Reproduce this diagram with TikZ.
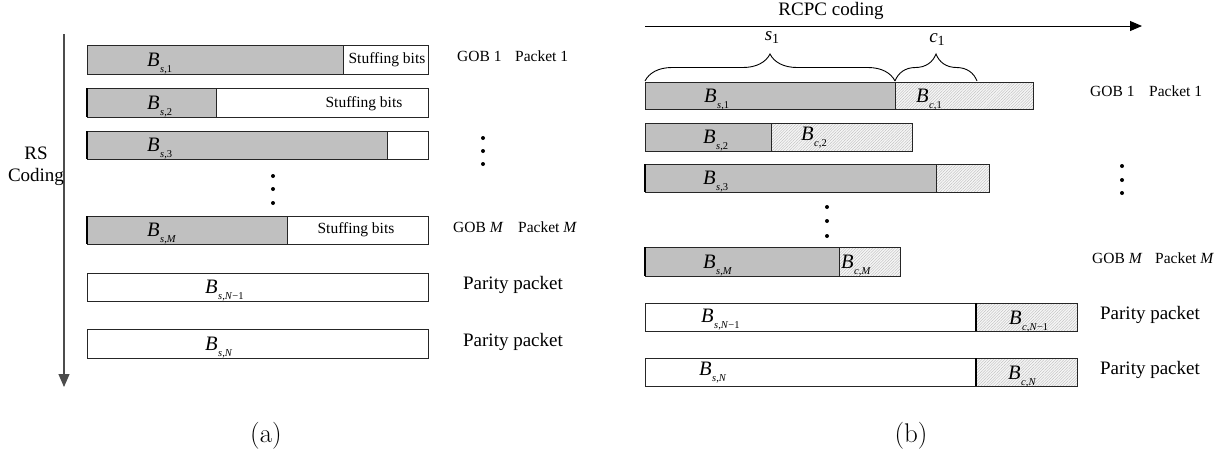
\documentclass[tikz,border=0pt]{standalone}
\usepackage{fontspec}
\newfontfamily\tnr{Liberation Serif}
\usetikzlibrary{patterns.meta,decorations.pathreplacing,arrows.meta}
\definecolor{boxgray}{HTML}{C0C0C0}
\newcommand{\subl}[1]{\raisebox{-6.5pt}{\fontsize{10.5}{10.5}\selectfont #1}}
\newcommand{\Blab}[1]{\textit{B}\kern0.5pt\subl{#1}}
\begin{document}
\begin{tikzpicture}[x=1pt,y=-1pt,
  box/.style={draw=black!85, line width=1pt},
  gfill/.style={fill=boxgray},
  hatch/.style={preaction={fill=gray!8}, pattern={Lines[angle=45,distance=2pt,line width=0.35pt]}, pattern color=gray!55},
  blab/.style={anchor=base west, inner sep=0pt, font=\tnr\fontsize{20.5}{20}\selectfont},
  small/.style={font=\tnr\fontsize{15.5}{18}\selectfont, inner sep=0pt},
  big/.style={font=\tnr\fontsize{19}{22}\selectfont, inner sep=0pt},
  dot/.style={circle, fill=black, inner sep=0pt, minimum size=4pt},
  ledge/.style={line width=2pt, black},
]
\useasboundingbox (0,0) rectangle (1225,459);

% ---------------- (a) ----------------
\coordinate (rsTop) at (64,34);
\coordinate (rsBot) at (64,387);
\draw[line width=1.2pt, black!70, -{Triangle[length=13pt,width=11pt]}] (rsTop) -- (rsBot);
\node[big, align=center] (rs) at (36,166) {RS\\Coding};

% row 1
\fill[boxgray] (87,45) rectangle (343,74);
\draw[box] (87,45) rectangle (428,74);
\draw[box] (343,45) -- (343,74);
\node[blab] (la1) at (147,66) {\Blab{\textit{s},1}};
\node[small] (st1) at (387,60) {Stuffing bits};
\node[small, anchor=west] (gob1a) at (457,56) {GOB 1};
\node[small, anchor=west] (pk1a) at (515,56) {Packet 1};

% row 2
\fill[boxgray] (87,88) rectangle (216,117);
\draw[box] (87,88) rectangle (428,117);
\draw[box] (216,88) -- (216,117);
\draw[ledge] (87,88) -- (87,117);
\node[blab] (la2) at (147,109) {\Blab{\textit{s},2}};
\node[small] (st2) at (364,104) {Stuffing bits};

% row 3
\fill[boxgray] (87,131) rectangle (387,159);
\draw[box] (87,131) rectangle (428,159);
\draw[box] (387,131) -- (387,159);
\draw[ledge] (87,131) -- (87,159);
\node[blab] (la3) at (147,151) {\Blab{\textit{s},3}};

% dots
\node[dot] (da1) at (483,138) {};
\node[dot] (da2) at (483,151) {};
\node[dot] (da3) at (483,164) {};
\node[dot] (db1) at (273,176) {};
\node[dot] (db2) at (273,189) {};
\node[dot] (db3) at (273,203) {};

% row M
\fill[boxgray] (87,216) rectangle (287,244);
\draw[box] (87,216) rectangle (428,244);
\draw[box] (287,216) -- (287,244);
\draw[ledge] (87,216) -- (87,244);
\node[blab] (laM) at (147,236) {\Blab{\textit{s},\textit{M}}};
\node[small] (stM) at (356,230) {Stuffing bits};
\node[small, anchor=west] (gobMa) at (453,227) {GOB \textit{M}};
\node[small, anchor=west] (pkMa) at (518,227) {Packet \textit{M}};

% parity rows
\draw[box] (87,273) rectangle (428,301);
\node[blab] (laN1) at (205,293) {\Blab{\textit{s},\textit{N}−1}};
\node[big] (ppa1) at (513,285) {Parity packet};
\draw[box] (87,329) rectangle (428,358);
\node[blab] (laN) at (205,350) {\Blab{\textit{s},\textit{N}}};
\node[big] (ppa2) at (513,342) {Parity packet};

\node (capa) at (266,436) {\fontsize{27}{27}\selectfont (a)};

% ---------------- (b) ----------------
\coordinate (rcL) at (645,26);
\coordinate (rcR) at (1142,26);
\draw[line width=1pt, black, -{Triangle[length=12pt,width=10pt]}] (rcL) -- (rcR);
\node[big] (rcpc) at (831,11) {RCPC coding};

% braces
\draw[line width=0.9pt, decorate, decoration={brace, amplitude=27pt}] (645,81) -- (895,81);
\draw[line width=0.9pt, decorate, decoration={brace, amplitude=27pt}] (895,81) -- (977,81);
\node[big] (s1) at (772,38) {\textit{s}\raisebox{-3pt}{\fontsize{14}{14}\selectfont 1}};
\node[big] (c1) at (937,40) {\textit{c}\raisebox{-3pt}{\fontsize{14}{14}\selectfont 1}};

% row 1
\fill[boxgray] (645,82) rectangle (895,109);
\path[hatch] (895,82) rectangle (1033,109);
\draw[box] (645,82) rectangle (1033,109);
\draw[box] (895,82) -- (895,109);
\node[blab] (lb1) at (704,102) {\Blab{\textit{s},1}};
\node[blab] (lc1) at (916,102) {\Blab{\textit{c},1}};
\node[small, anchor=west] (gob1b) at (1090,91) {GOB 1};
\node[small, anchor=west] (pk1b) at (1149,91) {Packet 1};

% row 2
\fill[boxgray] (645,123) rectangle (771,151);
\path[hatch] (771,123) rectangle (912,151);
\draw[box] (645,123) rectangle (912,151);
\draw[box] (771,123) -- (771,151);
\node[blab] (lb2) at (703,143) {\Blab{\textit{s},2}};
\node[blab] (lc2) at (801,140) {\Blab{\textit{c},2}};

% row 3
\fill[boxgray] (645,164) rectangle (936,192);
\path[hatch] (936,164) rectangle (989,192);
\draw[box] (645,164) rectangle (989,192);
\draw[box] (936,164) -- (936,192);
\draw[ledge] (645,164) -- (645,192);
\node[blab] (lb3) at (703,184) {\Blab{\textit{s},3}};

% dots
\node[dot] (dc1) at (1122,166) {};
\node[dot] (dc2) at (1122,180) {};
\node[dot] (dc3) at (1122,193) {};
\node[dot] (dd1) at (827,207) {};
\node[dot] (dd2) at (827,221) {};
\node[dot] (dd3) at (827,236) {};

% row M
\fill[boxgray] (645,247) rectangle (839,276);
\path[hatch] (839,247) rectangle (900,276);
\draw[box] (645,247) rectangle (900,276);
\draw[box] (839,247) -- (839,276);
\draw[ledge] (645,247) -- (645,276);
\node[blab] (lbM) at (703,268) {\Blab{\textit{s},\textit{M}}};
\node[blab] (lcM) at (841,268) {\Blab{\textit{c},\textit{M}}};
\node[small, anchor=west] (gobMb) at (1092,258) {GOB \textit{M}};
\node[small, anchor=west] (pkMb) at (1155,258) {Packet \textit{M}};

% parity rows
\path[hatch] (976,303) rectangle (1077,331);
\draw[box] (645,303) rectangle (1077,331);
\draw[line width=1.6pt] (976,303) -- (976,331);
\node[blab] (lbN1) at (701,322) {\Blab{\textit{s},\textit{N}−1}};
\node[blab] (lcN1) at (1009,324) {\Blab{\textit{c},\textit{N}−1}};
\node[big] (ppb1) at (1150,315) {Parity packet};

\path[hatch] (976,358) rectangle (1077,386);
\draw[box] (645,358) rectangle (1077,386);
\draw[line width=1.6pt] (976,358) -- (976,386);
\node[blab] (lbN) at (699,375) {\Blab{\textit{s},\textit{N}}};
\node[blab] (lcN) at (1008,379) {\Blab{\textit{c},\textit{N}}};
\node[big] (ppb2) at (1150,370) {Parity packet};

\node (capb) at (911,436) {\fontsize{27}{27}\selectfont (b)};
\end{tikzpicture}
\end{document}
